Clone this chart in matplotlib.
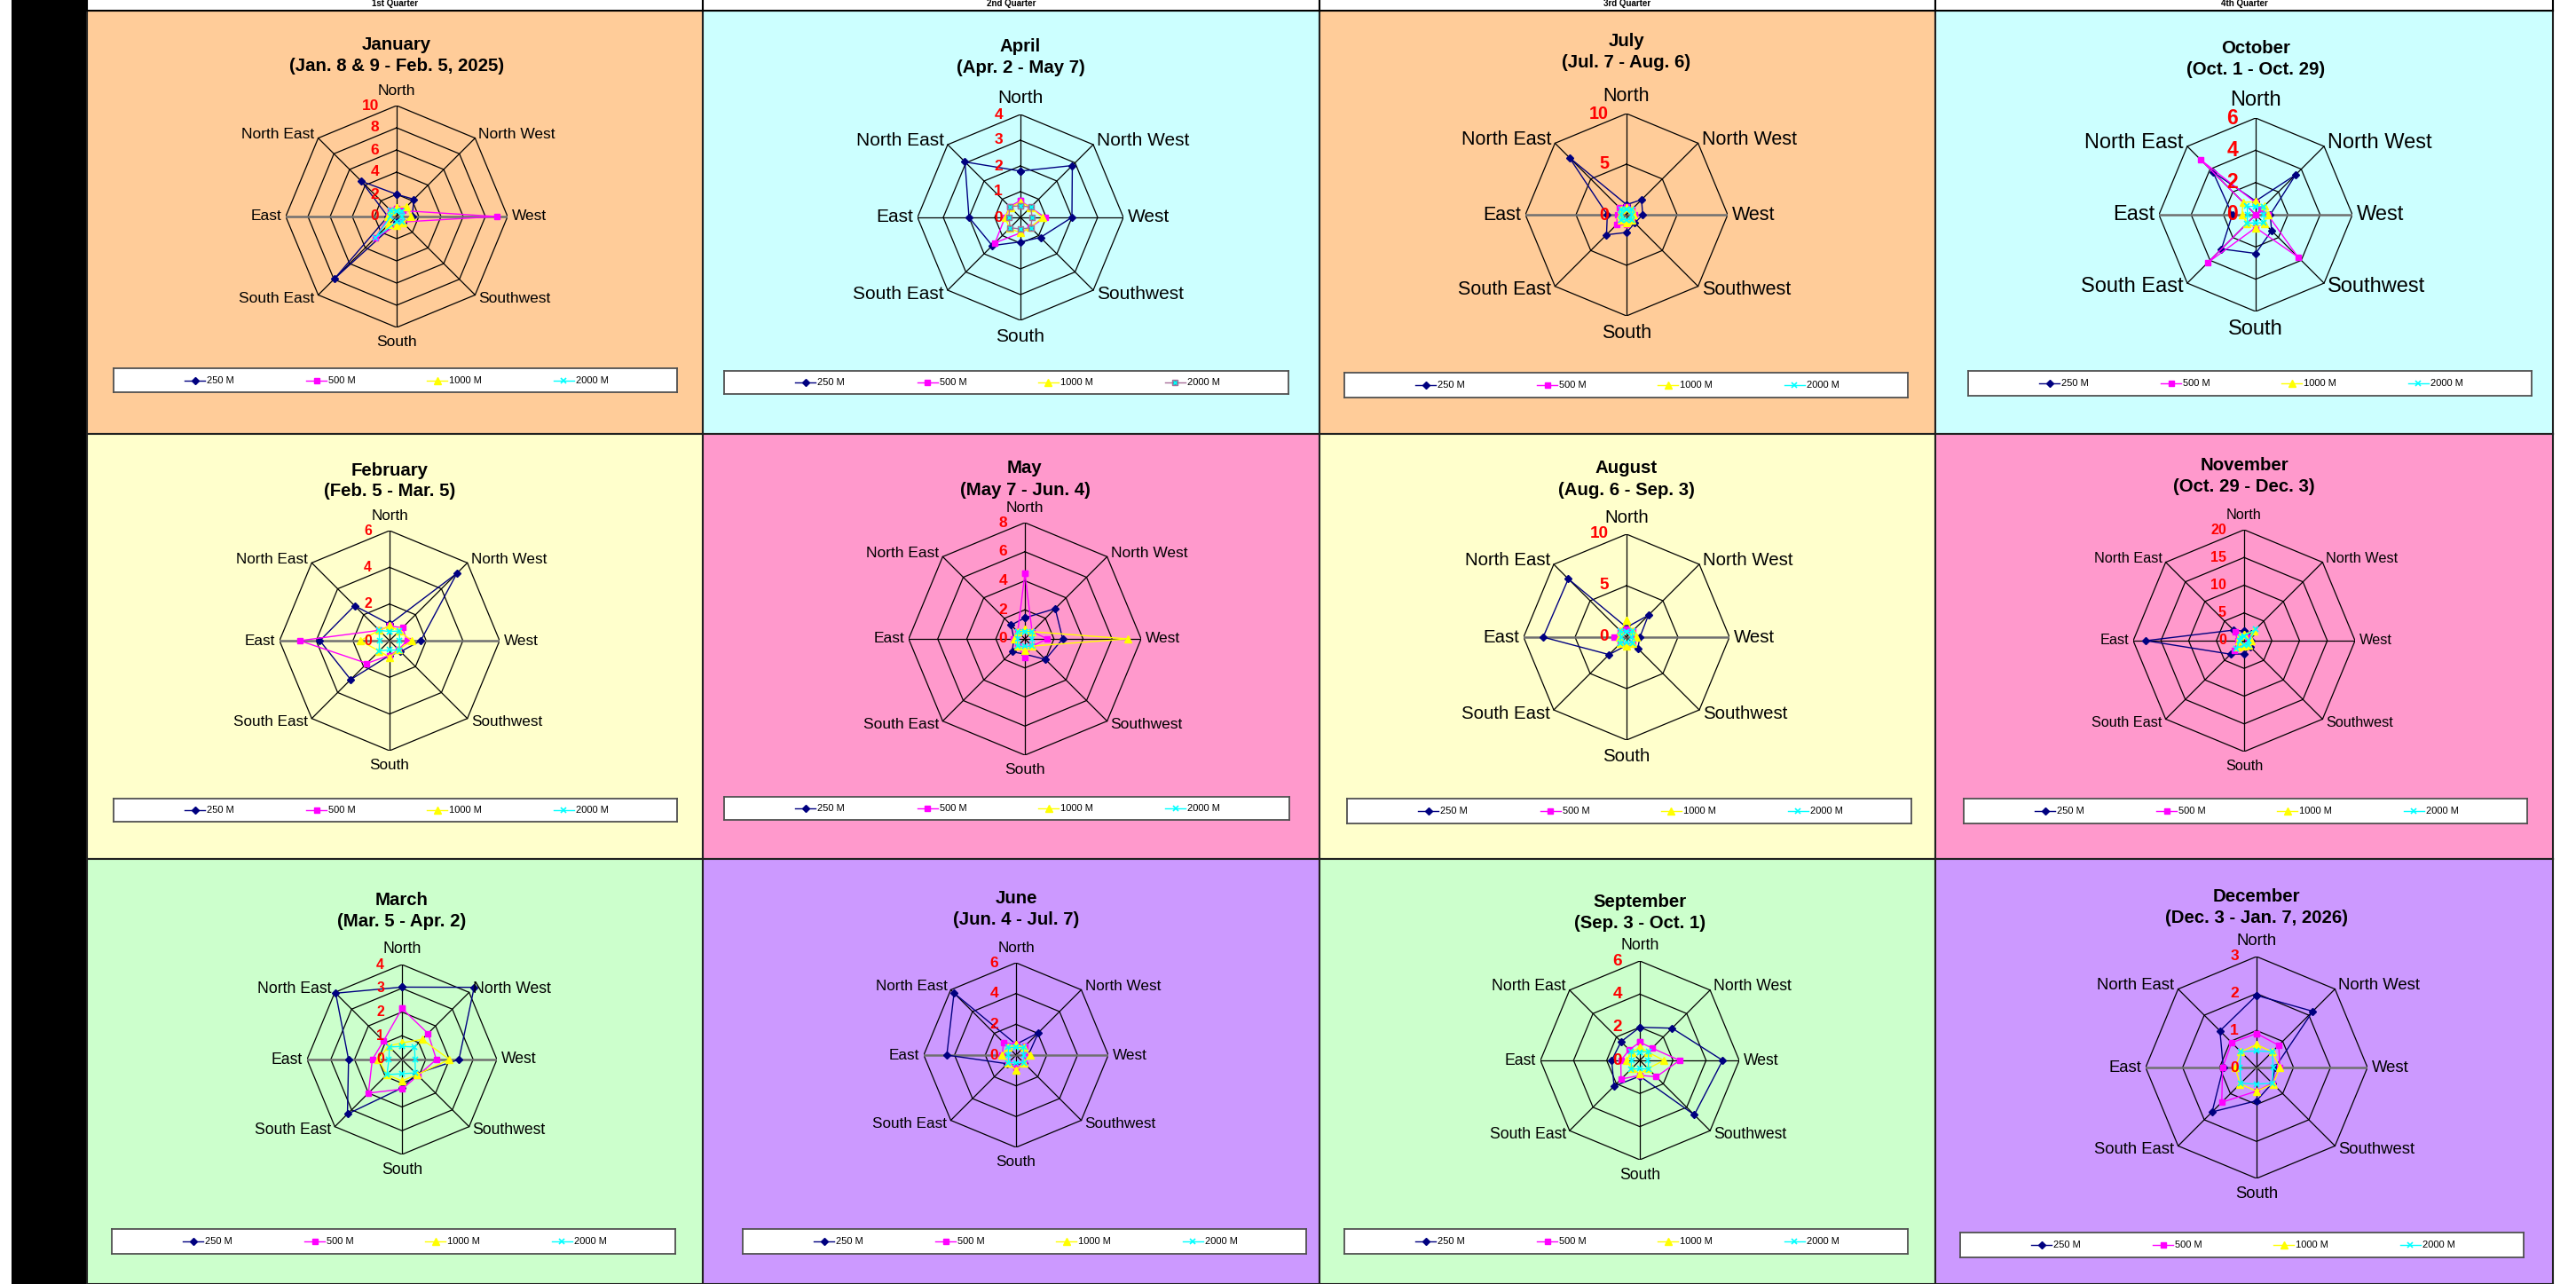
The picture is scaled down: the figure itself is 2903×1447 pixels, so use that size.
import numpy as np
import matplotlib.pyplot as plt
import matplotlib.transforms as mtransforms
from matplotlib.patches import Rectangle

plt.rcParams['font.family'] = ['Liberation Sans', 'DejaVu Sans']

W, H = 2903, 1447

directions = ['North', 'North West', 'West', 'Southwest',
              'South', 'South East', 'East', 'North East']
series_names = ['250 M', '500 M', '1000 M', '2000 M']
quarters = ['1st Quarter', '2nd Quarter', '3rd Quarter', '4th Quarter']

# monthly counts per direction: 250 M, 500 M, 1000 M, 2000 M
jan = [[2.0, 2.2, 1.4, 0.8, 0.5, 7.9, 0.8, 4.5],
       [0.7, 0.75, 9.0, 0.7, 0.8, 2.7, 0.7, 0.8],
       [0.8, 1.3, 1.3, 0.8, 0.8, 1.0, 0.8, 0.7],
       [0.5, 0.65, 0.5, 0.7, 0.5, 2.7, 0.55, 0.75]]
feb = [[0.9, 5.2, 1.7, 0.85, 0.8, 3.0, 3.8, 2.7],
       [0.8, 1.0, 0.95, 0.7, 0.8, 1.75, 4.9, 0.8],
       [0.8, 0.75, 1.2, 0.7, 0.9, 0.8, 1.6, 0.8],
       [0.5, 0.75, 0.55, 0.75, 0.5, 0.8, 0.55, 0.8]]
mar = [[3.05, 4.3, 2.4, 0.85, 1.2, 3.25, 2.25, 3.95],
       [2.15, 1.55, 1.45, 0.95, 1.25, 2.0, 1.25, 1.1],
       [0.7, 1.2, 2.0, 0.9, 0.9, 0.9, 1.0, 0.8],
       [0.55, 0.75, 0.55, 0.8, 0.6, 0.9, 0.55, 0.75]]
apr = [[1.8, 2.85, 2.0, 1.1, 0.95, 1.55, 2.0, 3.05],
       [0.65, 0.55, 0.95, 0.55, 0.6, 1.4, 0.6, 0.6],
       [0.6, 0.55, 0.85, 0.55, 0.6, 0.6, 0.6, 0.55],
       [0.45, 0.57, 0.45, 0.57, 0.45, 0.57, 0.45, 0.6]]
may = [[1.45, 2.95, 2.6, 2.0, 1.05, 1.25, 0.75, 1.35],
       [4.5, 0.7, 1.55, 0.7, 1.3, 0.7, 0.8, 0.7],
       [0.7, 0.7, 7.1, 0.7, 0.8, 0.7, 0.75, 0.7],
       [0.5, 0.72, 0.5, 0.72, 0.5, 0.72, 0.5, 0.72]]
jun = [[0.7, 2.05, 0.8, 0.7, 0.7, 0.8, 4.5, 5.7],
       [0.7, 0.8, 0.7, 0.7, 0.8, 0.7, 0.9, 1.15],
       [0.7, 0.7, 0.9, 0.7, 1.0, 0.7, 0.9, 0.7],
       [0.5, 0.7, 0.5, 0.7, 0.5, 0.7, 0.5, 0.7]]
jul = [[1.0, 2.1, 1.6, 1.15, 1.75, 2.8, 1.9, 8.0],
       [0.8, 0.8, 0.8, 0.8, 1.0, 1.4, 0.9, 1.0],
       [0.7, 0.7, 0.7, 0.7, 0.8, 0.7, 0.6, 0.7],
       [0.5, 0.7, 0.5, 0.7, 0.5, 0.7, 0.5, 0.7]]
aug = [[0.95, 3.0, 1.3, 1.55, 0.8, 2.4, 8.1, 8.0],
       [0.8, 0.8, 0.8, 0.8, 0.8, 0.8, 1.2, 0.8],
       [1.65, 0.8, 0.95, 0.8, 0.9, 0.8, 0.7, 0.8],
       [0.55, 0.8, 0.55, 0.8, 0.55, 0.8, 0.55, 0.8]]
sep = [[2.0, 2.75, 5.0, 4.65, 0.95, 2.2, 1.7, 1.6],
       [1.1, 1.05, 2.4, 1.4, 0.9, 1.6, 1.15, 0.9],
       [0.8, 0.7, 1.45, 0.7, 0.8, 0.7, 0.8, 0.7],
       [0.5, 0.75, 0.5, 0.75, 0.5, 0.75, 0.5, 0.75]]
octo = [[0.85, 3.5, 0.9, 1.4, 2.4, 3.0, 1.45, 3.75],
        [0.75, 0.5, 0.75, 3.7, 0.8, 4.2, 0.0, 4.8],
        [0.8, 0.75, 0.75, 0.75, 0.8, 0.75, 0.85, 1.1],
        [0.5, 0.73, 0.5, 0.73, 0.5, 0.75, 0.5, 0.75]]
nov = [[1.7, 1.9, 1.2, 1.5, 2.4, 3.45, 17.7, 2.7],
       [1.0, 1.0, 1.0, 1.0, 1.0, 2.5, 1.2, 2.3],
       [1.2, 2.4, 1.2, 1.2, 1.0, 1.5, 1.0, 1.2],
       [0.8, 2.85, 0.8, 1.1, 0.8, 2.0, 0.8, 1.0]]
dec = [[1.95, 2.15, 0.5, 0.6, 0.9, 1.7, 0.9, 1.4],
       [0.92, 0.85, 0.63, 0.6, 0.64, 1.33, 0.92, 0.95],
       [0.62, 0.6, 0.63, 0.63, 0.64, 0.63, 0.58, 0.6],
       [0.45, 0.6, 0.45, 0.6, 0.45, 0.6, 0.45, 0.6]]

# grid order, row by row
panel_data = [jan, apr, jul, octo, feb, may, aug, nov, mar, jun, sep, dec]
months = ['January', 'April', 'July', 'October',
          'February', 'May', 'August', 'November',
          'March', 'June', 'September', 'December']
periods = ['(Jan. 8 & 9 - Feb. 5, 2025)', '(Apr. 2 - May 7)',
           '(Jul. 7 - Aug. 6)', '(Oct. 1 - Oct. 29)',
           '(Feb. 5 - Mar. 5)', '(May 7 - Jun. 4)',
           '(Aug. 6 - Sep. 3)', '(Oct. 29 - Dec. 3)',
           '(Mar. 5 - Apr. 2)', '(Jun. 4 - Jul. 7)',
           '(Sep. 3 - Oct. 1)', '(Dec. 3 - Jan. 7, 2026)']
ticks = [[0, 2, 4, 6, 8, 10], [0, 1, 2, 3, 4], [0, 5, 10], [0, 2, 4, 6],
         [0, 2, 4, 6], [0, 2, 4, 6, 8], [0, 5, 10], [0, 5, 10, 15, 20],
         [0, 1, 2, 3, 4], [0, 2, 4, 6], [0, 2, 4, 6], [0, 1, 2, 3]]

bg_colors = ['#FFCC99', '#CCFFFF', '#FFCC99', '#CCFFFF',
             '#FFFFCC', '#FF99CC', '#FFFFCC', '#FF99CC',
             '#CCFFCC', '#CC99FF', '#CCFFCC', '#CC99FF']

# layout in pixels
col_edges = [98, 792, 1487, 2181, 2877]
row_edges = [12, 489, 968, 1447]
centers = [(447, 244), (1150, 245), (1833, 242), (2542, 242),
           (439, 722), (1155, 720), (1833, 718), (2529, 722),
           (453, 1194), (1145, 1189), (1848, 1195), (2543, 1203)]
radii = [125, 116, 114, 109, 124, 131, 116, 125, 107, 104, 112, 125]
title_y = [50, 52, 47, 54, 530, 528, 528, 524, 1015, 1013, 1017, 1011]
label_fs = [12.5, 15, 15.5, 17, 12.3, 12.5, 14.7, 11.7, 12.7, 12.3, 12.7, 13.3]
tick_fs = [12.5, 12.5, 14.2, 16.5, 11.3, 12.5, 13.6, 11.5, 11.3, 12.5, 13.6, 12.5]
gray_ew = [True, False, True, True, True, False, True, False, True, True, False, True]
legend_boxes = [(128, 415, 635, 27), (816, 418, 636, 26), (1515, 420, 635, 28),
                (2218, 418, 635, 28), (128, 900, 635, 26), (816, 898, 637, 26),
                (1518, 900, 636, 28), (2213, 900, 635, 28), (126, 1385, 635, 28),
                (837, 1385, 635, 28), (1515, 1385, 635, 28), (2209, 1389, 635, 28)]

styles = [dict(color='#000080', marker='D', ms=3.8, mfc='#000080', mec='#000080'),
          dict(color='#FF00FF', marker='s', ms=5, mfc='#FF00FF', mec='#FF00FF'),
          dict(color='#FFFF00', marker='^', ms=5.5, mfc='#FFFF00', mec='#FFFF00'),
          dict(color='#00FFFF', marker='x', ms=5, mew=1.2)]
april_2000 = dict(color='#A8709A', marker='s', ms=5, mfc='#4E8C96', mec='#A8709A')

angles = np.deg2rad(np.arange(8) * 45.0)
ux, uy = np.sin(angles), np.cos(angles)
ux_c, uy_c = np.append(ux, ux[0]), np.append(uy, uy[0])


def frac(x0, y0, w, h):
    return [x0 / W, 1 - (y0 + h) / H, w / W, h / H]


fig = plt.figure(figsize=(W / 100, H / 100), dpi=100)

# black strip on the left
fig.add_artist(Rectangle((13 / W, 0), (98 - 13) / W, 1, transform=fig.transFigure,
                         facecolor='black', edgecolor='none', zorder=0))

# quarter headers
for q in range(4):
    x0, x1 = col_edges[q], col_edges[q + 1]
    fig.add_artist(Rectangle((x0 / W, 1 - 12 / H), (x1 - x0) / W, 20 / H,
                             transform=fig.transFigure, facecolor='white',
                             edgecolor='black', lw=1.5, zorder=1))
    fig.text((x0 + x1) / 2 / W, 1 - 4 / H, quarters[q], ha='center', va='center',
             fontsize=7, fontweight='bold', zorder=2)

label_place = [('center', 'bottom', 0, 9), ('left', 'center', 4, 4),
               ('left', 'center', 5, 0), ('left', 'center', 4, -4),
               ('center', 'top', 0, -9), ('right', 'center', -4, -4),
               ('right', 'center', -5, 0), ('right', 'center', -4, 4)]
leg_x = [0.126, 0.342, 0.556, 0.781]

for p in range(12):
    r, c = divmod(p, 4)
    x0, x1 = col_edges[c], col_edges[c + 1]
    y0, y1 = row_edges[r], row_edges[r + 1]

    bg = fig.add_axes(frac(x0, y0, x1 - x0, y1 - y0))
    bg.set_facecolor(bg_colors[p])
    bg.set_xticks([])
    bg.set_yticks([])
    for s in bg.spines.values():
        s.set_linewidth(1.5)
        s.set_color('#202020')

    cx, cy = centers[p]
    R = radii[p]
    tk = ticks[p]
    vmax = tk[-1]
    ax = fig.add_axes(frac(cx - R, cy - R, 2 * R, 2 * R))
    ax.set_xlim(-vmax, vmax)
    ax.set_ylim(-vmax, vmax)
    ax.axis('off')

    # rings and spokes
    for t in tk[1:]:
        ax.plot(t * ux_c, t * uy_c, color='black', lw=0.9, zorder=1)
    for i in range(8):
        if i in (2, 6) and gray_ew[p]:
            ax.plot([0, vmax * ux[i]], [0, vmax * uy[i]], color='#707070', lw=1.8, zorder=1)
        else:
            ax.plot([0, vmax * ux[i]], [0, vmax * uy[i]], color='black', lw=0.9, zorder=1)

    # series
    for k, vals in enumerate(panel_data[p]):
        v = np.array(vals + vals[:1])
        st = april_2000 if (p == 1 and k == 3) else styles[k]
        ax.plot(v * ux_c, v * uy_c, lw=1.0, clip_on=False, zorder=2 + k, **st)
        if p == 1 and k == 3:
            ax.plot(v * ux_c, v * uy_c, ls='none', marker='x', ms=3.5, color='#00FFFF',
                    mew=1, clip_on=False, zorder=6)

    # value labels along the north spoke
    tick_tr = mtransforms.offset_copy(ax.transData, fig=fig, x=-20, y=0, units='dots')
    for t in tk:
        ax.text(0, t, str(t), transform=tick_tr, ha='right', va='center',
                color='red', fontweight='bold', fontsize=tick_fs[p], zorder=8)

    # direction labels
    for i, name in enumerate(directions):
        ha, va, dx, dy = label_place[i]
        tr = mtransforms.offset_copy(ax.transData, fig=fig, x=dx, y=dy, units='dots')
        ax.text(vmax * ux[i], vmax * uy[i], name, transform=tr, ha=ha, va=va,
                fontsize=label_fs[p], color='black')

    # title
    fig.text(cx / W, 1 - title_y[p] / H, months[p], ha='center', va='center',
             fontsize=14.7, fontweight='bold')
    fig.text(cx / W, 1 - (title_y[p] + 24) / H, periods[p], ha='center', va='center',
             fontsize=14.7, fontweight='bold')

    # legend box
    lx, ly, lw_, lh = legend_boxes[p]
    lg = fig.add_axes(frac(lx, ly, lw_, lh))
    lg.set_xlim(0, 1)
    lg.set_ylim(0, 1)
    lg.set_facecolor('white')
    lg.set_xticks([])
    lg.set_yticks([])
    for s in lg.spines.values():
        s.set_linewidth(1.3)
        s.set_color('#505050')
    seg = 23 / lw_
    for k, name in enumerate(series_names):
        st = dict(april_2000 if (p == 1 and k == 3) else styles[k])
        xs = leg_x[k]
        lg.plot([xs, xs + seg], [0.5, 0.5], color=st['color'], lw=1.0)
        st_m = {key: val for key, val in st.items() if key != 'color'}
        lg.plot([xs + seg / 2], [0.5], ls='none', color=st['color'], **st_m)
        if p == 1 and k == 3:
            lg.plot([xs + seg / 2], [0.5], ls='none', marker='x', ms=3.5,
                    color='#00FFFF', mew=1)
        lg.text(xs + seg + 2 / lw_, 0.5, name, ha='left', va='center', fontsize=8)

fig.savefig('out.png', dpi=100)
